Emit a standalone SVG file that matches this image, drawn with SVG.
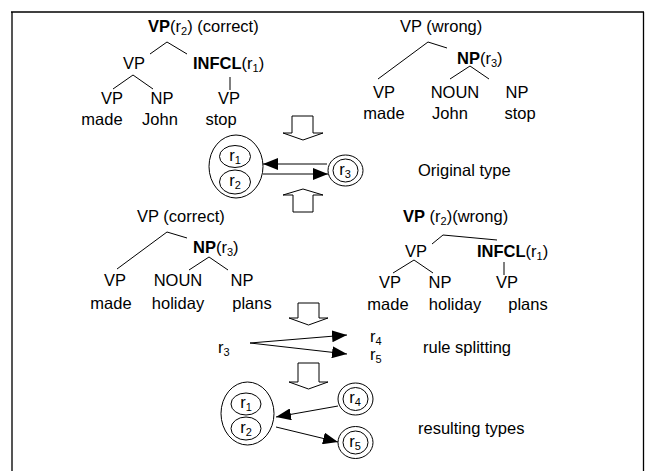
<svg xmlns="http://www.w3.org/2000/svg" width="647" height="471" viewBox="0 0 647 471">
  <style>
    text { font-family: "Liberation Sans", Arial, sans-serif; font-size: 16.5px; fill: #000; }
    .m { text-anchor: middle; }
    .b { font-weight: bold; }
    .sub { font-size: 11px; }
    .ln { stroke: #000; stroke-width: 1; fill: none; }
    .ov { stroke: #000; stroke-width: 1; fill: #fff; }
    .blk { stroke: #000; stroke-width: 1; fill: #fff; }
    .ar { stroke: #000; stroke-width: 1; fill: none; marker-end: url(#head); }
  </style>
  <defs>
    <marker id="head" markerUnits="userSpaceOnUse" markerWidth="16" markerHeight="12" refX="15" refY="6" orient="auto">
      <path d="M0,0 L15,6 L0,12 Z" fill="#000"/>
    </marker>
  </defs>

  <rect width="647" height="471" fill="#fff"/>
  <!-- frame -->
  <g id="frame">
    <line x1="12" y1="12" x2="12" y2="471" stroke="#555" stroke-width="2"/>
    <line x1="11" y1="12" x2="644" y2="12" stroke="#000" stroke-width="1.3"/>
    <line x1="643.5" y1="12" x2="643.5" y2="471" stroke="#000" stroke-width="1.3"/>
  </g>

  <!-- parse tree: made John stop (correct) -->
  <g id="tree1">
    <text x="148" y="32"><tspan class="b">VP</tspan>(r<tspan class="sub" dy="3">2</tspan><tspan dy="-3">) (correct)</tspan></text>
    <path class="ln" d="M150,54 L167,42 L187,54"/>
    <text class="m" x="134" y="69">VP</text>
    <text x="193" y="69"><tspan class="b">INFCL</tspan>(r<tspan class="sub" dy="3">1</tspan><tspan dy="-3">)</tspan></text>
    <path class="ln" d="M113,89 L133,75 L153,89 M230,77 L230,90"/>
    <text class="m" x="112" y="104">VP</text>
    <text class="m" x="162" y="104">NP</text>
    <text class="m" x="229" y="104">VP</text>
    <text class="m" x="102" y="125">made</text>
    <text class="m" x="160" y="125">John</text>
    <text class="m" x="221" y="125">stop</text>
  </g>

  <!-- parse tree: made John stop (wrong) -->
  <g id="tree2">
    <text x="400" y="32">VP (wrong)</text>
    <path class="ln" d="M378,79 L428,42 L447,48"/>
    <text x="457" y="64"><tspan class="b">NP</tspan>(r<tspan class="sub" dy="3">3</tspan><tspan dy="-3">)</tspan></text>
    <path class="ln" d="M450,79 L470,66 L489,79"/>
    <text class="m" x="384" y="98">VP</text>
    <text class="m" x="455" y="98">NOUN</text>
    <text class="m" x="517" y="98">NP</text>
    <text class="m" x="384" y="119">made</text>
    <text class="m" x="450" y="119">John</text>
    <text class="m" x="520" y="119">stop</text>
  </g>

  <!-- block arrows -->
  <g id="blockArrows">
    <path class="blk" d="M292,116 H313 V133 H323 L303,140 L283,133 H292 Z"/>
    <path class="blk" d="M303,189 L323,195 H313 V212 H293 V195 H283 Z"/>
    <path class="blk" d="M298,303 H319 V318 H328 L308.5,325 L289,318 H298 Z"/>
    <path class="blk" d="M298,363 H319 V382 H328 L308.5,389 L289,382 H298 Z"/>
  </g>

  <!-- original type -->
  <g id="typeR12a">
    <ellipse class="ov" cx="236" cy="166.5" rx="27" ry="31.5"/>
    <ellipse class="ov" cx="235" cy="156.5" rx="15.5" ry="11"/>
    <ellipse class="ov" cx="235" cy="182" rx="15.5" ry="12"/>
    <text class="m" x="235" y="161">r<tspan class="sub" dy="3">1</tspan></text>
    <text class="m" x="235" y="186">r<tspan class="sub" dy="3">2</tspan></text>
  </g>
  <g id="typeR3">
    <ellipse class="ov" cx="345.5" cy="170.5" rx="17.5" ry="15.5"/>
    <ellipse class="ov" cx="345.5" cy="170.5" rx="12.5" ry="11.5"/>
    <text class="m" x="345" y="175">r<tspan class="sub" dy="3">3</tspan></text>
  </g>
  <text x="418" y="176">Original type</text>

  <!-- parse tree: made holiday plans (correct) -->
  <g id="tree3">
    <text x="137" y="222">VP (correct)</text>
    <path class="ln" d="M117,269 L167,232 L187,238"/>
    <text x="193" y="253"><tspan class="b">NP</tspan>(r<tspan class="sub" dy="3">3</tspan><tspan dy="-3">)</tspan></text>
    <path class="ln" d="M189,270 L209,257 L228,270"/>
    <text class="m" x="115" y="286">VP</text>
    <text class="m" x="178" y="286">NOUN</text>
    <text class="m" x="242" y="286">NP</text>
    <text class="m" x="111" y="309">made</text>
    <text class="m" x="178" y="309">holiday</text>
    <text class="m" x="252" y="309">plans</text>
  </g>

  <!-- parse tree: made holiday plans (wrong) -->
  <g id="tree4">
    <text x="403" y="222"><tspan class="b">VP</tspan> (r<tspan class="sub" dy="3">2</tspan><tspan dy="-3">)(wrong)</tspan></text>
    <path class="ln" d="M432,244 L443,235 L497,240"/>
    <text class="m" x="416" y="257">VP</text>
    <text x="477" y="257"><tspan class="b">INFCL</tspan>(r<tspan class="sub" dy="3">1</tspan><tspan dy="-3">)</tspan></text>
    <path class="ln" d="M393,273 L414,260 L433,273 M504,262 L504,275"/>
    <text class="m" x="390" y="288">VP</text>
    <text class="m" x="440" y="288">NP</text>
    <text class="m" x="507" y="288">VP</text>
    <text class="m" x="388" y="310">made</text>
    <text class="m" x="455" y="310">holiday</text>
    <text class="m" x="528" y="310">plans</text>
  </g>

  <!-- rule splitting -->
  <g id="split">
    <text x="218" y="353">r<tspan class="sub" dy="3">3</tspan></text>
    <text x="370" y="342">r<tspan class="sub" dy="3">4</tspan></text>
    <text x="370" y="360">r<tspan class="sub" dy="3">5</tspan></text>
  </g>
  <text x="423" y="353">rule splitting</text>

  <!-- resulting types -->
  <g id="typeR12b">
    <ellipse class="ov" cx="247.5" cy="413.5" rx="26.5" ry="31.5"/>
    <ellipse class="ov" cx="246" cy="404" rx="15" ry="11"/>
    <ellipse class="ov" cx="246" cy="428.5" rx="15" ry="11.5"/>
    <text class="m" x="246" y="408">r<tspan class="sub" dy="3">1</tspan></text>
    <text class="m" x="246" y="433">r<tspan class="sub" dy="3">2</tspan></text>
  </g>
  <g id="typeR4">
    <ellipse class="ov" cx="355.5" cy="399" rx="17.5" ry="16"/>
    <ellipse class="ov" cx="355.5" cy="399" rx="12.5" ry="11.5"/>
    <text class="m" x="355" y="403">r<tspan class="sub" dy="3">4</tspan></text>
  </g>
  <g id="typeR5">
    <ellipse class="ov" cx="355.5" cy="442.5" rx="17.5" ry="16"/>
    <ellipse class="ov" cx="355.5" cy="442.5" rx="12.5" ry="11.5"/>
    <text class="m" x="355" y="447">r<tspan class="sub" dy="3">5</tspan></text>
  </g>
  <text x="418" y="434">resulting types</text>

  <!-- connectors -->
  <g id="connectors">
    <line class="ar" x1="327" y1="164" x2="263" y2="164"/>
    <line class="ar" x1="263" y1="174" x2="328" y2="174"/>
    <line class="ar" x1="250" y1="343" x2="347" y2="335"/>
    <line class="ar" x1="250" y1="343" x2="347" y2="354"/>
    <line class="ar" x1="338" y1="406" x2="276" y2="417"/>
    <line class="ar" x1="276" y1="427" x2="338" y2="442"/>
  </g>
</svg>
